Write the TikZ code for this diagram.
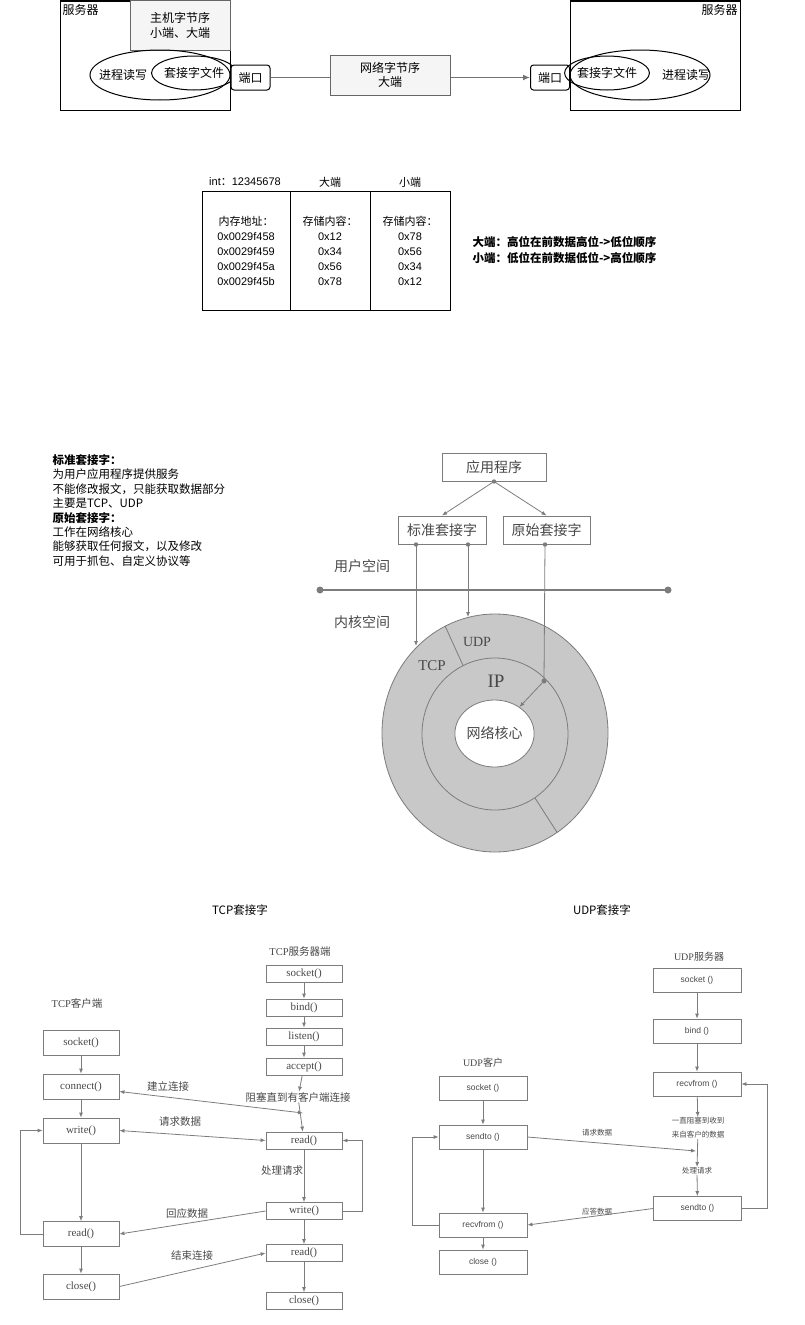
\documentclass[tikz,border=0pt]{standalone}
\usepackage{fontspec}
\setmainfont{Liberation Sans}
\newfontfamily\cjk{Noto Sans CJK SC}
\newfontfamily\tnr{Liberation Serif}
\usetikzlibrary{arrows.meta,shapes.geometric}
\definecolor{boxgray}{HTML}{F5F5F5}
\definecolor{edgegray}{HTML}{666666}
\definecolor{ringgray}{HTML}{C8C8C8}
\definecolor{scangray}{HTML}{7C7C7C}
\definecolor{inkgray}{HTML}{484848}

\begin{document}
\begin{tikzpicture}[x=1pt, y=-1pt, line width=1pt,
    every node/.style={inner sep=0pt},
    cn/.style={font=\fontsize{12}{14.5}\selectfont\cjk},
    srv/.style={draw, minimum width=170, minimum height=109},
    gbox/.style={draw=edgegray, fill=boxgray, align=center, cn},
    port/.style={draw, fill=white, rounded corners=3, minimum width=39, minimum height=25, cn},
    oval/.style={draw, ellipse},
    cell/.style={draw, minimum height=119, align=center, font=\fontsize{11}{15}\selectfont},
    sbox/.style={draw=scangray, fill=white, minimum height=28, text=inkgray, font=\fontsize{14}{16}\selectfont\cjk},
    stext/.style={text=inkgray, font=\fontsize{14}{16}\selectfont\cjk},
    sline/.style={draw=scangray, line width=0.8pt},
    sarr/.style={sline, -{Latex[length=5pt,width=4pt]}},
    both/.style={sline, {Latex[length=5pt,width=4pt]}-{Latex[length=5pt,width=4pt]}},
    title/.style={font=\fontsize{11.5}{14}\selectfont\cjk},
    tbox/.style={draw=scangray, line width=0.8pt, minimum width=76, text=inkgray, font=\fontsize{11}{13}\selectfont\tnr},
    tlbl/.style={text=inkgray, font=\fontsize{10.5}{13}\selectfont\cjk},
    ubox/.style={draw=scangray, line width=0.8pt, minimum width=88, minimum height=24, text=inkgray, font=\fontsize{8.5}{10}\selectfont},
    ulbl/.style={text=inkgray, align=center, font=\fontsize{7.5}{14}\selectfont\cjk}]
\useasboundingbox (0,0) rectangle (805,1325);

\node[srv] (SrvL) at (145,55.5) {};
\node[cn, anchor=north west] (SrvLname) at (62,4) {服务器};
\node[gbox, minimum width=100, minimum height=50] (Host) at (180,25.5) {主机字节序\\小端、大端};
\node[oval, minimum width=140, minimum height=50] (ProcL) at (160,75) {};
\node[cn] (ProcLtxt) at (123,75) {进程读写};
\node[oval, minimum width=68, minimum height=34, cn] (SockL) at (194,73) {套接字文件};
\node[port] (PortL) at (250.5,77.5) {端口};
\node[gbox, minimum width=120, minimum height=40] (Net) at (390,75) {网络字节序\\大端};
\node[port] (PortR) at (550,77.5) {端口};
\node[srv] (SrvR) at (655,55.5) {};
\node[cn, anchor=north east] (SrvRname) at (738,4) {服务器};
\node[oval, minimum width=140, minimum height=50] (ProcR) at (640,75) {};
\node[cn] (ProcRtxt) at (686,75) {进程读写};
\node[oval, minimum width=70, minimum height=34, cn] (SockR) at (607,73) {套接字文件};
\draw[black!55, line width=1.6pt] (PortL) -- (PortL -| Net.west);
\draw[black!55, line width=1.6pt, -{Latex[length=7pt,width=6pt]}] (PortL -| Net.east) -- (PortR);

\node[font=\fontsize{11}{13}\selectfont] (IntHdr) at (245,182) {int{\cjk ：}12345678};
\node[font=\fontsize{11}{13}\selectfont\cjk] (BigHdr) at (330,182) {大端};
\node[font=\fontsize{11}{13}\selectfont\cjk] (LitHdr) at (410,182) {小端};
\node[cell, minimum width=88] (AddrCol) at (246,250.5) {{\cjk 内存地址：}\\0x0029f458\\0x0029f459\\0x0029f45a\\0x0029f45b};
\node[cell, minimum width=80] (BigCol) at (330,250.5) {{\cjk 存储内容：}\\0x12\\0x34\\0x56\\0x78};
\node[cell, minimum width=80] (LitCol) at (410,250.5) {{\cjk 存储内容：}\\0x78\\0x56\\0x34\\0x12};
\node[anchor=west, align=left, font=\fontsize{11.5}{16}\selectfont\cjk\bfseries] (Endian) at (472,250) {大端：高位在前数据高位->低位顺序\\小端：低位在前数据低位->高位顺序};

\node[anchor=north west, align=left, font=\fontsize{11.5}{14.4}\selectfont\cjk] (Notes) at (52,454) {\textbf{标准套接字：}\\为用户应用程序提供服务\\不能修改报文，只能获取数据部分\\主要是TCP、UDP\\\textbf{原始套接字：}\\工作在网络核心\\能够获取任何报文，以及修改\\可用于抓包、自定义协议等};

\node[sbox, minimum width=104] (App) at (494,467) {应用程序};
\node[sbox, minimum width=88] (Std) at (442,530) {标准套接字};
\node[sbox, minimum width=87] (Raw) at (546.5,530) {原始套接字};
\draw[sarr] (App.south) -- (Std.north);
\draw[sarr] (App.south) -- (Raw.north);
\fill[scangray] (App.south) circle (2.2);
\node[stext] (UserSp) at (362,566) {用户空间};
\node[stext] (KernSp) at (362,622) {内核空间};
\coordinate (UL) at (320,590);
\coordinate (UR) at (668,590);
\draw[scangray, line width=2.4pt] (UL) -- (UR);
\fill[scangray] (UL) circle (3.5) (UR) circle (3.5);
\node[ellipse, draw=scangray, fill=ringgray, line width=0.8pt, minimum width=226, minimum height=238] (Outer) at (495,733) {};
\node[ellipse, draw=scangray, fill=ringgray, line width=0.8pt, minimum width=146, minimum height=152] (Mid) at (495,734) {};
\node[ellipse, draw=scangray, fill=white, line width=0.8pt, minimum width=65, minimum height=67, stext] (Core) at (494.5,733.5) {网络核心};
\draw[sline] (Mid.115) -- (Outer.115);
\draw[sline] (Mid.-58) -- (Outer.-58);
\node[text=inkgray, font=\fontsize{14}{16}\selectfont\tnr] (UdpTxt) at (477,642) {UDP};
\node[text=inkgray, font=\fontsize{15}{16}\selectfont\tnr] (TcpTxt) at (432,666) {TCP};
\node[text=inkgray, font=\fontsize{19}{20}\selectfont\tnr] (IpTxt) at (496,681) {IP};
\coordinate (StdA) at ([xshift=-26pt]Std.south);
\coordinate (StdB) at ([xshift=26pt]Std.south);
\coordinate (RawA) at ([xshift=-1.5pt]Raw.south);
\coordinate (TcpIn) at (416,646);
\coordinate (UdpIn) at (468,617);
\coordinate (RawBend) at (544,681);
\draw[sarr] (StdA) -- (TcpIn);
\draw[sarr] (StdB) -- (UdpIn);
\draw[sline] (RawA) -- (RawBend);
\draw[sarr] (RawBend) -- (Core);
\fill[scangray] (StdA) circle (2.2) (StdB) circle (2.2) (RawA) circle (2.2) (RawBend) circle (2.5);

\node[title] (TcpTitle) at (240,910) {TCP套接字};
\node[tlbl] (TcpSrvName) at (300,952) {{\tnr TCP}服务器端};
\node[tbox, minimum height=17] (TS1) at (304,973.5) {socket()};
\node[tbox, minimum height=17] (TS2) at (304,1007.5) {bind()};
\node[tbox, minimum height=17] (TS3) at (304,1036.5) {listen()};
\node[tbox, minimum height=17] (TS4) at (304,1066.5) {accept()};
\node[tlbl, fill=white] (Block) at (298,1097) {阻塞直到有客户端连接};
\node[tbox, minimum height=17] (TS5) at (304,1140.5) {read()};
\node[tlbl] (Handle) at (282,1171) {处理请求};
\node[tbox, minimum height=17] (TS6) at (304,1211) {write()};
\node[tbox, minimum height=17] (TS7) at (304,1253) {read()};
\node[tbox, minimum height=17] (TS8) at (304,1301) {close()};
\node[tlbl] (TcpCliName) at (77,1003) {{\tnr TCP}客户端};
\node[tbox, minimum height=25] (TC1) at (81,1042.5) {socket()};
\node[tbox, minimum height=25] (TC2) at (81,1086.5) {connect()};
\node[tbox, minimum height=25] (TC3) at (81,1130.5) {write()};
\node[tbox, minimum height=25] (TC4) at (81,1234) {read()};
\node[tbox, minimum height=25] (TC5) at (81,1286.5) {close()};
\draw[sarr] (TS1) -- (TS2);
\draw[sarr] (TS2) -- (TS3);
\draw[sarr] (TS3) -- (TS4);
\draw[sarr] (TS4) -- (Block);
\draw[sarr] (Block) -- (TS5);
\draw[sarr] (TS5) -- (TS6);
\draw[sarr] (TS6) -- (TS7);
\draw[sarr] (TS7) -- (TS8);
\draw[sarr] (TS6.east) -- ++(20,0) |- (TS5.east);
\draw[sarr] (TC1) -- (TC2);
\draw[sarr] (TC2) -- (TC3);
\draw[sarr] (TC3) -- (TC4);
\draw[sarr] (TC4) -- (TC5);
\draw[sarr] (TC4.west) -- ++(-22,0) |- (TC3.west);
\coordinate (Meet) at (303,1113);
\draw[both] ([yshift=-5pt]TC2.east) -- (Meet);
\node[tlbl] (Connect) at (168,1086) {建立连接};
\draw[both] (TC3.east) -- (TS5.west);
\node[tlbl] (Request) at (180,1122) {请求数据};
\draw[sarr] (TS6.west) -- (TC4.east);
\node[tlbl] (Reply) at (187,1213) {回应数据};
\draw[sarr] (TC5.east) -- (TS7.west);
\node[tlbl] (Finish) at (192,1255) {结束连接};

\node[title] (UdpTitle) at (602,910) {UDP套接字};
\node[tlbl, font=\fontsize{10}{12}\selectfont\cjk] (UdpSrvName) at (699,957) {{\tnr UDP}服务器};
\node[ubox] (US1) at (697,980) {socket ()};
\node[ubox] (US2) at (697,1031) {bind ()};
\node[ubox] (US3) at (697,1084) {recvfrom ()};
\node[ulbl] (Wait) at (698,1128) {一直阻塞到收到\\来自客户的数据};
\node[ulbl] (Proc) at (697,1171) {处理请求};
\node[ubox] (US4) at (697.5,1208.5) {sendto ()};
\node[tlbl, font=\fontsize{10}{12}\selectfont\cjk] (UdpCliName) at (483,1063) {{\tnr UDP}客户};
\node[ubox] (UC1) at (483,1088) {socket ()};
\node[ubox] (UC2) at (483,1137) {sendto ()};
\node[ubox] (UC3) at (483,1225) {recvfrom ()};
\node[ubox] (UC4) at (483,1262) {close ()};
\draw[sarr] (US1) -- (US2);
\draw[sarr] (US2) -- (US3);
\draw[sarr] (US3) -- (Wait);
\draw[sarr] (Wait) -- (Proc);
\draw[sarr] (Proc) -- (US4);
\draw[sarr] (US4.east) -- ++(25,0) |- (US3.east);
\draw[sarr] (UC1) -- (UC2);
\draw[sarr] (UC2) -- (UC3);
\draw[sarr] (UC3) -- (UC4);
\draw[sarr] (UC3.west) -- ++(-26,0) |- (UC2.west);
\coordinate (UMeet) at (696,1151);
\draw[sarr] (UC2.east) -- (UMeet);
\node[ulbl] (URequest) at (597,1133) {请求数据};
\draw[sarr] (US4.west) -- (UC3.east);
\node[ulbl] (UReply) at (597,1212) {应答数据};
\end{tikzpicture}
\end{document}
